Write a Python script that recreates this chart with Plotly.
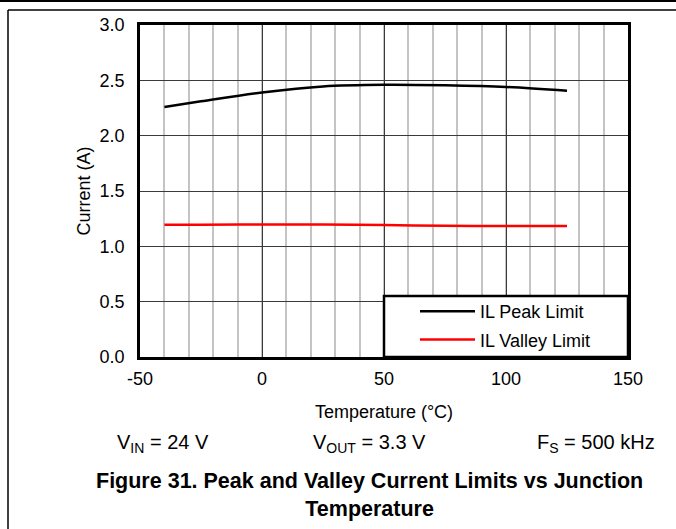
import plotly.graph_objects as go

# ---- data ----
temp_c = [-40, -25, 0, 25, 50, 75, 100, 125]
il_peak = [2.26, 2.31, 2.39, 2.445, 2.46, 2.455, 2.44, 2.405]
il_valley = [1.195, 1.195, 1.197, 1.198, 1.192, 1.186, 1.183, 1.183]
series_names = ["IL Peak Limit", "IL Valley Limit"]
x_ticks = [-50, 0, 50, 100, 150]
y_ticks = [0.0, 0.5, 1.0, 1.5, 2.0, 2.5, 3.0]

FONT = "Arial, 'Liberation Sans', sans-serif"
W, H = 676, 529
L, R, T, B = 140, 48, 25, 172
PW, PH = W - L - R, H - T - B


def px(x):
    return (x - L) / PW


def py(y):
    return (H - B - y) / PH


fig = go.Figure()
fig.add_trace(go.Scatter(x=temp_c, y=il_peak, mode="lines", name=series_names[0],
                         legendgroup="a",
                         line=dict(color="black", width=2.5, shape="spline")))
fig.add_trace(go.Scatter(x=temp_c, y=il_valley, mode="lines", name=series_names[1],
                         legendgroup="b",
                         line=dict(color="#ff0000", width=2.5, shape="spline")))

shapes = [
    # page rules / frame
    dict(type="line", xref="paper", yref="paper", x0=px(0), x1=px(W), y0=py(1), y1=py(1),
         line=dict(color="black", width=2)),
    dict(type="line", xref="paper", yref="paper", x0=px(8), x1=px(W), y0=py(10), y1=py(10),
         line=dict(color="black", width=1.5)),
    dict(type="line", xref="paper", yref="paper", x0=px(8), x1=px(8), y0=py(10), y1=py(H),
         line=dict(color="black", width=1.5)),
    # legend box
    dict(type="rect", xref="paper", yref="paper", x0=px(384), x1=1.0, y0=0.0, y1=py(296),
         line=dict(color="black", width=2.5), fillcolor="white", layer="above"),
]

ann_common = dict(xref="paper", yref="paper", showarrow=False,
                  xanchor="center", yanchor="middle")
annotations = [
    dict(text="V<sub>IN</sub> = 24 V", x=px(163), y=py(443),
         font=dict(size=20, family=FONT, color="black"), **ann_common),
    dict(text="V<sub>OUT</sub> = 3.3 V", x=px(369), y=py(443),
         font=dict(size=20, family=FONT, color="black"), **ann_common),
    dict(text="F<sub>S</sub> = 500 kHz", x=px(596), y=py(443),
         font=dict(size=20, family=FONT, color="black"), **ann_common),
    dict(text="<b>Figure 31. Peak and Valley Current Limits vs Junction<br>Temperature</b>",
         x=px(369), y=py(495), align="center",
         font=dict(size=21.5, family=FONT, color="black"), **ann_common),
]

fig.update_layout(
    width=W, height=H,
    margin=dict(l=L, r=R, t=T, b=B),
    paper_bgcolor="white", plot_bgcolor="white",
    font=dict(family=FONT, size=18, color="black"),
    showlegend=True,
    legend=dict(x=px(415), y=py(293), xanchor="left", yanchor="top",
                bgcolor="rgba(0,0,0,0)", borderwidth=0,
                font=dict(size=18, family=FONT, color="black"),
                itemwidth=55, tracegroupgap=2),
    shapes=shapes,
    annotations=annotations,
    xaxis=dict(range=[-50, 150], tickvals=x_ticks, ticktext=[str(v) for v in x_ticks],
               showgrid=True, gridcolor="#3a3a3a", gridwidth=1,
               minor=dict(dtick=10, showgrid=True, gridcolor="#c4c4c4", gridwidth=1.5),
               showline=True, linecolor="black", linewidth=2.5, mirror=True,
               ticks="", tickfont=dict(size=18), ticklabelstandoff=4,
               zeroline=False,
               title=dict(text="Temperature (°C)", font=dict(size=18), standoff=18)),
    yaxis=dict(range=[0, 3.0], tickvals=y_ticks, ticktext=[f"{v:.1f}" for v in y_ticks],
               showgrid=True, gridcolor="#3a3a3a", gridwidth=1,
               showline=True, linecolor="black", linewidth=2.5, mirror=True,
               ticks="", tickfont=dict(size=18), ticklabelstandoff=9,
               zeroline=False,
               title=dict(text="Current (A)", font=dict(size=18), standoff=5)),
)

fig.write_html("out.html", config={"displayModeBar": False},
               post_script="document.body.style.margin='0px';document.body.style.overflow='hidden';")
